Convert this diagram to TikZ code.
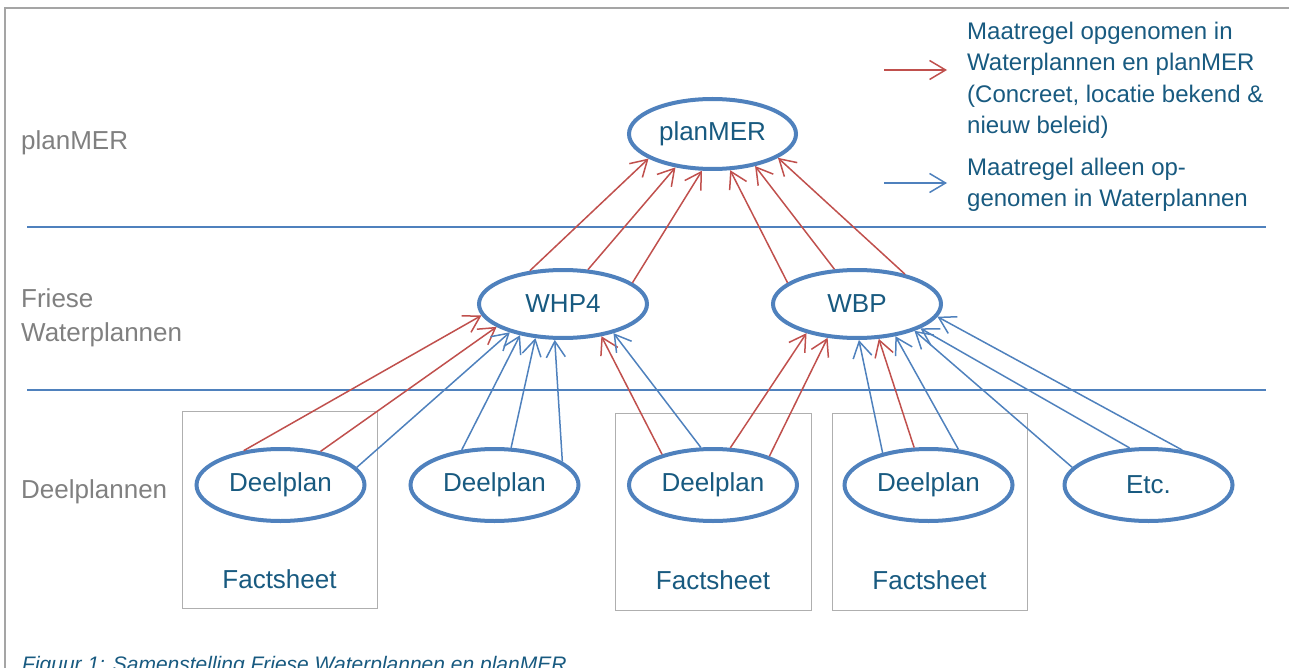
\documentclass[tikz,border=0pt]{standalone}
\usepackage{fontspec}
\setmainfont{Liberation Sans}
\usetikzlibrary{arrows.meta,shapes.geometric}
\definecolor{ellblue}{RGB}{79,129,189}
\definecolor{arred}{RGB}{192,80,77}
\definecolor{txtblue}{RGB}{24,90,128}
\definecolor{lblgray}{RGB}{128,128,128}
\definecolor{boxgray}{RGB}{175,175,175}
\definecolor{framegray}{RGB}{165,165,165}
\begin{document}
\begin{tikzpicture}[x=1pt,y=1pt,
  ell/.style={ellipse, draw=ellblue, line width=4pt, fill=white, minimum width=168pt,
    minimum height=70pt, inner sep=0pt, text=txtblue, font=\fontsize{26}{30}\selectfont},
  sheet/.style={draw=boxgray, line width=1.2pt, inner sep=0pt, anchor=north west},
  sheettxt/.style={anchor=base, inner sep=0pt, text=txtblue, font=\fontsize{26}{30}\selectfont},
  lvl/.style={anchor=base west, inner sep=0pt, text=lblgray, font=\fontsize{26}{30}\selectfont},
  lgd/.style={anchor=base west, inner sep=0pt, text=txtblue, font=\fontsize{24}{30}\selectfont},
  sepline/.style={draw=ellblue, line width=1.5pt},
  ra/.style={draw=arred, line width=1.5pt, -{Straight Barb[length=16pt,width=19pt]}},
  ba/.style={draw=ellblue, line width=1.5pt, -{Straight Barb[length=16pt,width=19pt]}}
]
\useasboundingbox (0,0) rectangle (1289,-668);
% frame
\draw[framegray, line width=2pt] (5,-668) -- (5,-8) -- (1289,-8);
% level separators
\draw[sepline] (27,-227) -- (1266,-227);
\draw[sepline] (27,-390) -- (1266,-390);
% level labels
\node[lvl] (l1) at (21,-150) {planMER};
\node[lvl] (l2a) at (21,-307) {Friese};
\node[lvl] (l2b) at (21,-341) {Waterplannen};
\node[lvl] (l3) at (21,-498) {Deelplannen};
% factsheet boxes
\node[sheet, minimum width=195pt, minimum height=197pt] (fs1) at (182,-411) {};
\node[sheet, minimum width=196pt, minimum height=197pt] (fs2) at (615,-413) {};
\node[sheet, minimum width=195pt, minimum height=197pt] (fs3) at (832,-413) {};
\node[sheettxt] (ft1) at (279.5,-588) {Factsheet};
\node[sheettxt] (ft2) at (713,-589) {Factsheet};
\node[sheettxt] (ft3) at (929.5,-589) {Factsheet};
% ellipses
\node[ell, minimum width=167pt, minimum height=70pt] (pm) at (712.5,-134) {planMER};
\node[ell, minimum height=68pt] (w4) at (563,-304) {WHP4};
\node[ell, minimum height=68pt] (wb) at (857,-304) {WBP};
\node[ell, minimum height=72pt] (d1) at (280.5,-485) {Deelplan};
\node[ell, minimum height=72pt] (d2) at (494.5,-485) {Deelplan};
\node[ell, minimum height=72pt] (d3) at (713,-485) {Deelplan};
\node[ell, minimum height=72pt] (d4) at (928.5,-485) {Deelplan};
\node[ell, minimum height=72pt] (et) at (1148.5,-485) {Etc.};
% arrows to planMER
\draw[ra] (w4.135) -- (pm.201);
\draw[ra] (w4.54) -- (pm.222);
\draw[ra] (w4.17) -- (pm.254);
\draw[ra] (wb.163) -- (pm.296);
\draw[ra] (wb.123) -- (pm.323);
\draw[ra] (wb.32) -- (pm.340);
% arrows to WHP4
\draw[ra] (d1.137) -- (w4.188);
\draw[ra] (d1.40) -- (w4.199);
\draw[ba] (d1.13) -- (w4.208);
\draw[ba] (d2.133) -- (w4.216);
\draw[ba] (d2.66) -- (w4.231);
\draw[ba] (d2.19) -- (w4.257);
\draw[ra] (d3.149) -- (w4.320);
\draw[ba] (d3.108) -- (w4.330);
% arrows to WBP
\draw[ra] (d3.65) -- (wb.210);
\draw[ra] (d3.27) -- (wb.229);
\draw[ba] (d4.145) -- (wb.273);
\draw[ra] (d4.111) -- (wb.302);
\draw[ba] (d4.50) -- (wb.320);
\draw[ba] (et.167) -- (wb.335);
\draw[ba] (et.117) -- (wb.339);
\draw[ba] (et.46) -- (wb.351);
% legend
\coordinate (lra) at (884,-70);
\coordinate (lrb) at (947,-70);
\coordinate (lba) at (884,-183);
\coordinate (lbb) at (947,-183);
\draw[ra] (lra) -- (lrb);
\draw[ba] (lba) -- (lbb);
\node[lgd] (g1) at (967,-40) {Maatregel opgenomen in};
\node[lgd] (g2) at (967,-71) {Waterplannen en planMER};
\node[lgd] (g3) at (967,-103) {(Concreet, locatie bekend \&};
\node[lgd] (g4) at (967,-134) {nieuw beleid)};
\node[lgd] (g5) at (967,-176) {Maatregel alleen op-};
\node[lgd] (g6) at (967,-207) {genomen in Waterplannen};
% caption
\node[anchor=base west, inner sep=0pt, text=txtblue, font=\fontsize{21}{25}\selectfont\itshape] (cap) at (22,-671) {Figuur 1: Samenstelling Friese Waterplannen en planMER};
\end{tikzpicture}
\end{document}
